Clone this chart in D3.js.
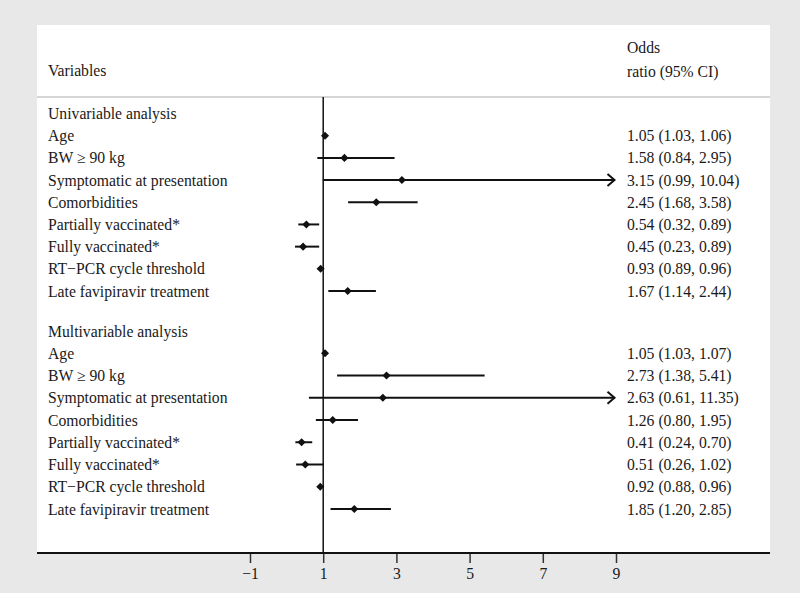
<!DOCTYPE html>
<html><head><meta charset="utf-8">
<script src="https://cdn.jsdelivr.net/npm/d3@7"></script>
<style>body{margin:0;background:#e8e8e8;} svg{display:block;}</style>
</head><body>
<svg id="c" width="800" height="593"></svg>
<script>
const labels = ["Univariable analysis","Age","BW \u2265 90 kg","Symptomatic at presentation","Comorbidities","Partially vaccinated*","Fully vaccinated*","RT\u2212PCR cycle threshold","Late favipiravir treatment","",
"Multivariable analysis","Age","BW \u2265 90 kg","Symptomatic at presentation","Comorbidities","Partially vaccinated*","Fully vaccinated*","RT\u2212PCR cycle threshold","Late favipiravir treatment"];
const orValues = [null,1.05,1.58,3.15,2.45,0.54,0.45,0.93,1.67,null,null,1.05,2.73,2.63,1.26,0.41,0.51,0.92,1.85];
const ciLow =    [null,1.03,0.84,0.99,1.68,0.32,0.23,0.89,1.14,null,null,1.03,1.38,0.61,0.80,0.24,0.26,0.88,1.20];
const ciHigh =   [null,1.06,2.95,10.04,3.58,0.89,0.89,0.96,2.44,null,null,1.07,5.41,11.35,1.95,0.70,1.02,0.96,2.85];
const orText = ["","1.05 (1.03, 1.06)","1.58 (0.84, 2.95)","3.15 (0.99, 10.04)","2.45 (1.68, 3.58)","0.54 (0.32, 0.89)","0.45 (0.23, 0.89)","0.93 (0.89, 0.96)","1.67 (1.14, 2.44)","","","1.05 (1.03, 1.07)","2.73 (1.38, 5.41)","2.63 (0.61, 11.35)","1.26 (0.80, 1.95)","0.41 (0.24, 0.70)","0.51 (0.26, 1.02)","0.92 (0.88, 0.96)","1.85 (1.20, 2.85)"];
const tickValues = [-1,1,3,5,7,9];
const xMax = 9;

const svg = d3.select("#c");
const font = "'Liberation Serif','Times New Roman',serif";
const fs = 15.7;
const panel = {l:37, t:25, r:770, b:553};
svg.append("rect").attr("x",panel.l).attr("y",panel.t).attr("width",panel.r-panel.l).attr("height",panel.b-panel.t).attr("fill","#fff");

const x = d3.scaleLinear().domain([-1,9]).range([250,616]);
// two sections of rows
const yUni = d3.scaleLinear().domain([0,8]).range([113.5,291]);
const yMulti = d3.scaleLinear().domain([10,18]).range([331,509]);
const y = i => i < 10 ? yUni(i) : yMulti(i);

// header
const T = (xx,yy,t)=>svg.append("text").attr("x",xx).attr("y",yy).text(t).attr("font-family",font).attr("font-size",fs).attr("fill","#1a1a1a");
T(48,76,"Variables");
T(627,53,"Odds");
T(627,77,"ratio (95% CI)");
svg.append("line").attr("x1",panel.l).attr("x2",panel.r).attr("y1",97).attr("y2",97).attr("stroke","#c8c8c8").attr("stroke-width",1.5);

// reference line
svg.append("line").attr("x1",x(1)).attr("x2",x(1)).attr("y1",97).attr("y2",panel.b).attr("stroke","#111").attr("stroke-width",1.5);

// labels
svg.append("g").selectAll("text").data(labels).join("text")
  .attr("x",48).attr("y",(d,i)=>y(i)+5.5).text(d=>d)
  .attr("font-family",font).attr("font-size",fs).attr("fill","#1a1a1a");
svg.append("g").selectAll("text").data(orText).join("text")
  .attr("x",627).attr("y",(d,i)=>y(i)+5.5).text(d=>d)
  .attr("font-family",font).attr("font-size",fs).attr("fill","#1a1a1a");

const idx = d3.range(labels.length).filter(i=>orValues[i]!=null);
const g = svg.append("g");
g.selectAll("line.ci").data(idx).join("line").attr("class","ci")
  .attr("x1",i=>x(ciLow[i])).attr("x2",i=>x(Math.min(ciHigh[i],xMax))-(ciHigh[i]>xMax?1.5:0))
  .attr("y1",i=>y(i)).attr("y2",i=>y(i)).attr("stroke","#111").attr("stroke-width",2);
// arrows for clipped CIs
g.selectAll("path.arr").data(idx.filter(i=>ciHigh[i]>xMax)).join("path").attr("class","arr")
  .attr("d",i=>{const xe=x(xMax)-1.5, yy=y(i); return `M${xe-7},${yy-6}L${xe},${yy}L${xe-7},${yy+6}`;})
  .attr("fill","none").attr("stroke","#111").attr("stroke-width",2);
g.selectAll("path.pt").data(idx).join("path").attr("class","pt")
  .attr("transform",i=>`translate(${x(orValues[i])},${y(i)})`)
  .attr("d",d3.symbol(d3.symbolDiamond2,42)).attr("fill","#111");

// axis
const axis = d3.axisBottom(x).tickValues(tickValues).tickSize(10).tickPadding(5).tickFormat(d=>d<0?"\u2212"+Math.abs(d):d);
const ax = svg.append("g").attr("transform",`translate(0,${panel.b})`).call(axis);
ax.select(".domain").remove();
ax.selectAll("line").attr("stroke","#333").attr("stroke-width",1.5);
ax.selectAll("text").attr("font-family",font).attr("font-size",fs).attr("fill","#1a1a1a");
svg.append("line").attr("x1",panel.l).attr("x2",panel.r).attr("y1",panel.b).attr("y2",panel.b).attr("stroke","#111").attr("stroke-width",2);
</script>
</body></html>
